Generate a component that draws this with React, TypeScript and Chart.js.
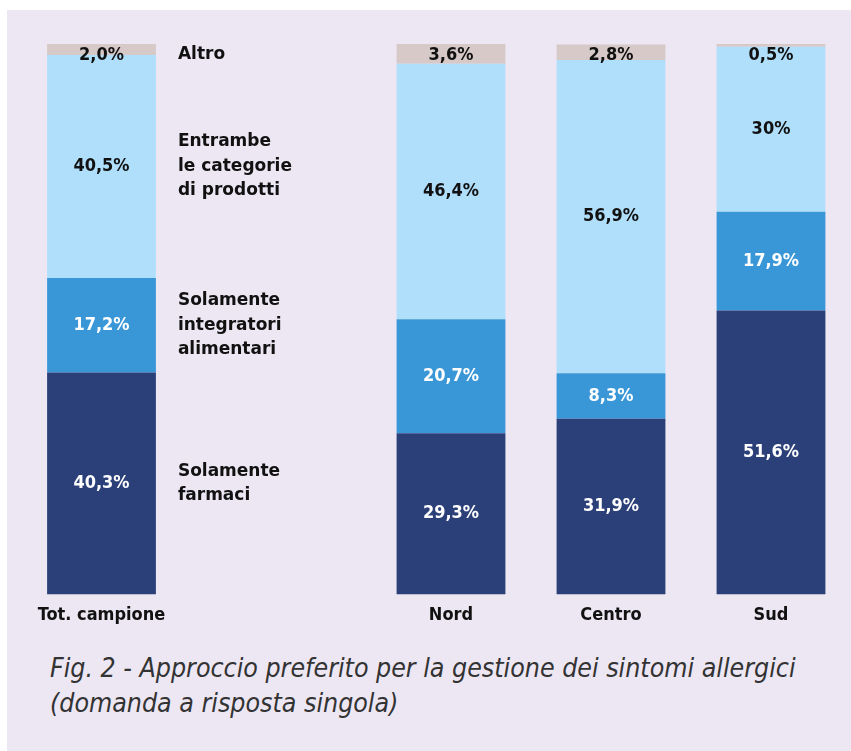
import React, { useEffect, useRef } from "react";
import { Chart, registerables } from "chart.js";

Chart.register(...registerables);

const categories = ["Tot. campione", "Nord", "Centro", "Sud"];

const farmaci = [40.3, 29.3, 31.9, 51.6];
const integratori = [17.2, 20.7, 8.3, 17.9];
const entrambe = [40.5, 46.4, 56.9, 30];
const altro = [2.0, 3.6, 2.8, 0.5];

const farmaciLabels = ["40,3%", "29,3%", "31,9%", "51,6%"];
const integratoriLabels = ["17,2%", "20,7%", "8,3%", "17,9%"];
const entrambeLabels = ["40,5%", "46,4%", "56,9%", "30%"];
const altroLabels = ["2,0%", "3,6%", "2,8%", "0,5%"];

const seriesNames = [
  ["Solamente", "farmaci"],
  ["Solamente", "integratori", "alimentari"],
  ["Entrambe", "le categorie", "di prodotti"],
  ["Altro"],
];

const caption = [
  "Fig. 2 - Approccio preferito per la gestione dei sintomi allergici",
  "(domanda a risposta singola)",
];

const COLORS = ["#2b3f78", "#3a97d7", "#b0dffc", "#d6c9c7"];
const TEXT_COLORS = ["#ffffff", "#ffffff", "#111111", "#111111"];
const BG = "#ede7f3";
const FONT = "'DejaVu Sans', sans-serif";
const FONT_COND = "'DejaVu Sans Condensed', 'DejaVu Sans', sans-serif";

const allValues = [farmaci, integratori, entrambe, altro];
const allLabels = [farmaciLabels, integratoriLabels, entrambeLabels, altroLabels];

function labelY(dsIndex: number, el: any) {
  if (dsIndex === 3) return el.y + 11;
  return (el.y + el.base) / 2;
}

const valueLabelPlugin = {
  id: "valueLabels",
  afterDatasetsDraw(chart: any) {
    const ctx = chart.ctx;
    ctx.save();
    ctx.font = `bold 18px ${FONT_COND}`;
    ctx.textAlign = "center";
    ctx.textBaseline = "middle";
    chart.data.datasets.forEach((ds: any, di: number) => {
      const meta = chart.getDatasetMeta(di);
      meta.data.forEach((el: any, i: number) => {
        ctx.fillStyle = TEXT_COLORS[di];
        ctx.fillText(ds.valueLabels[i], el.x, labelY(di, el));
      });
    });
    ctx.restore();
  },
};

const sideLegendPlugin = {
  id: "sideLegend",
  afterDatasetsDraw(chart: any, _args: any, opts: any) {
    if (!opts || !opts.enabled) return;
    const ctx = chart.ctx;
    ctx.save();
    ctx.font = `bold 17px ${FONT}`;
    ctx.textAlign = "left";
    ctx.textBaseline = "middle";
    ctx.fillStyle = "#111111";
    const lh = 24.5;
    chart.data.datasets.forEach((_ds: any, di: number) => {
      const el = chart.getDatasetMeta(di).data[0];
      const lines = seriesNames[di];
      const cy = labelY(di, el);
      const x = el.x + el.width / 2 + 22;
      lines.forEach((line, li) => {
        ctx.fillText(line, x, cy + (li - (lines.length - 1) / 2) * lh);
      });
    });
    ctx.restore();
  },
};

function StackChart(props: { from: number; to: number; padLeft: number; padRight: number; legend: boolean }) {
  const ref = useRef<HTMLCanvasElement>(null);
  useEffect(() => {
    if (!ref.current) return;
    const { from, to } = props;
    const chart = new Chart(ref.current, {
      type: "bar",
      data: {
        labels: categories.slice(from, to),
        datasets: allValues.map((vals, di) => ({
          label: seriesNames[di].join(" "),
          data: vals.slice(from, to),
          valueLabels: allLabels[di].slice(from, to),
          backgroundColor: COLORS[di],
          borderWidth: 0,
          barPercentage: 1,
          categoryPercentage: 0.68,
        })) as any,
      },
      options: {
        animation: false,
        responsive: true,
        maintainAspectRatio: false,
        layout: { padding: { top: 34, bottom: 4, left: props.padLeft, right: props.padRight } },
        plugins: {
          legend: { display: false },
          tooltip: { enabled: false },
          title: { display: false },
          sideLegend: { enabled: props.legend },
        } as any,
        scales: {
          x: {
            stacked: true,
            grid: { display: false, drawTicks: false },
            border: { display: false },
            ticks: { color: "#111111", font: { family: FONT_COND, size: 18, weight: "bold" }, padding: 10 },
          },
          y: { stacked: true, display: false, min: 0, max: 100 },
        },
      },
      plugins: [valueLabelPlugin, sideLegendPlugin],
    });
    return () => chart.destroy();
  }, []);
  return <canvas ref={ref} />;
}

export default function App() {
  return (
    <div
      style={{
        position: "fixed",
        left: 7,
        top: 10,
        width: 844,
        height: 741,
        background: BG,
        overflow: "hidden",
      }}
    >
      <div style={{ display: "flex", height: 630 }}>
        <div style={{ position: "relative", width: 364, height: 630 }}>
          <StackChart from={0} to={1} padLeft={14.5} padRight={189.5} legend={true} />
        </div>
        <div style={{ position: "relative", width: 480, height: 630 }}>
          <StackChart from={1} to={4} padLeft={0} padRight={0} legend={false} />
        </div>
      </div>
      <div
        style={{
          position: "absolute",
          left: 43,
          top: 640,
          fontFamily: FONT_COND,
          fontStyle: "italic",
          fontSize: 26.5,
          lineHeight: "35px",
          color: "#333333",
          whiteSpace: "nowrap",
        }}
      >
        {caption.map((l, i) => (
          <div key={i}>{l}</div>
        ))}
      </div>
    </div>
  );
}
